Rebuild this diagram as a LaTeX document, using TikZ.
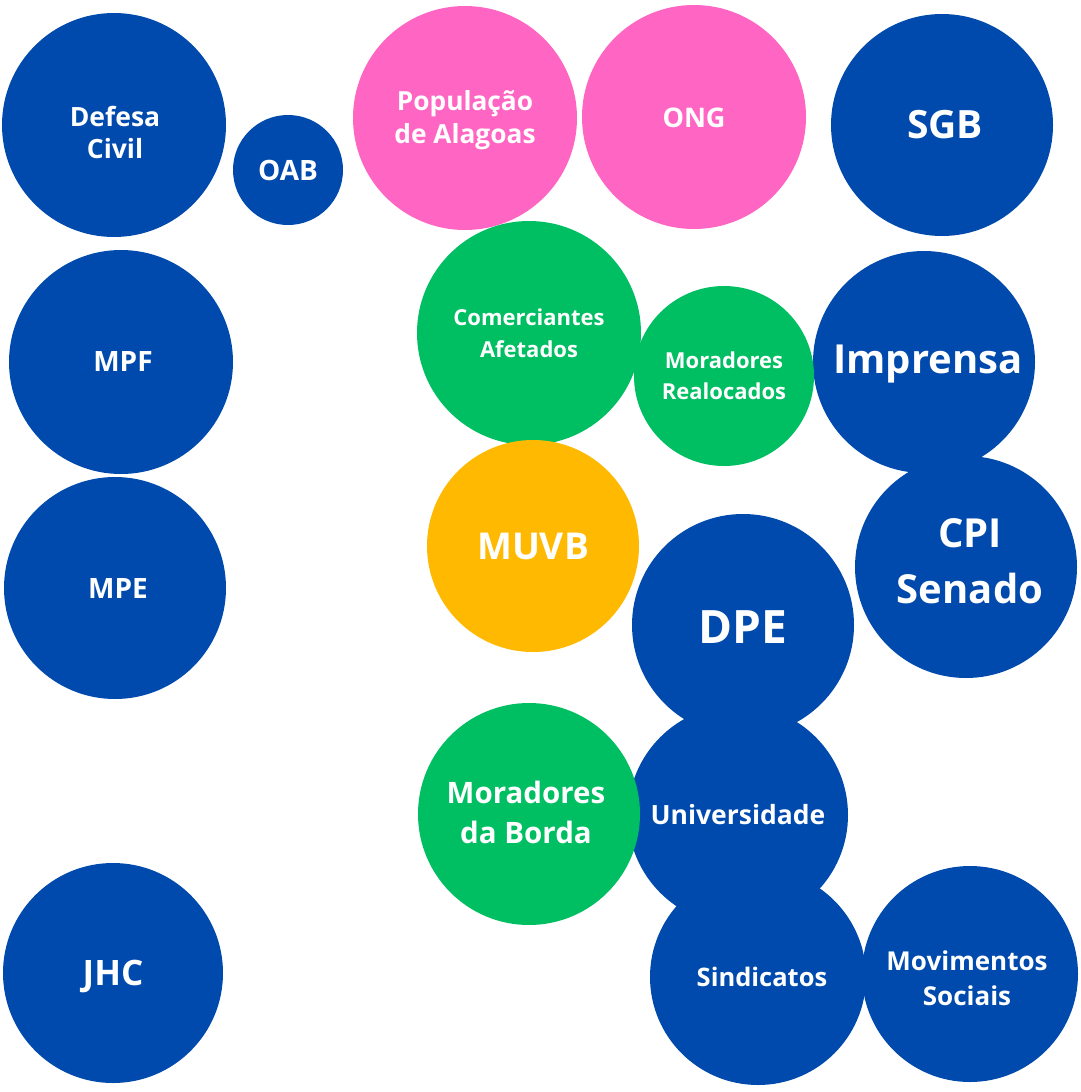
\documentclass[tikz,border=0pt]{standalone}
\usepackage{fontspec}
\setmainfont{Open Sans}
\definecolor{cblue}{HTML}{004AAD}
\definecolor{cgreen}{HTML}{00BF63}
\definecolor{cpink}{HTML}{FF66C4}
\definecolor{cyellow}{HTML}{FFB900}
\newcommand{\fs}[2]{\fontsize{#1}{#2}\selectfont}
\tikzset{
  bubble/.style={circle, inner sep=0pt},
  bluebub/.style={bubble, fill=cblue},
  greenbub/.style={bubble, fill=cgreen},
  pinkbub/.style={bubble, fill=cpink},
  yellowbub/.style={bubble, fill=cyellow},
  txt/.style={text=white, align=center, inner sep=0pt},
  fsz/.style 2 args={txt, font=\bfseries\fs{#1}{#2}},
}
\begin{document}
\begin{tikzpicture}[x=1pt,y=-1pt]
\useasboundingbox[fill=white] (0,0) rectangle (1080,1092);
% blue
\node[bluebub, minimum size=224pt] (defesa) at (114,125) {};
\node[fsz={26.5}{32}] (defesa-t) at ([xshift=1pt,yshift=-7pt]defesa.center) {Defesa\\Civil};
\node[bluebub, minimum size=110pt] (oab) at (288,170) {};
\node[fsz={28}{32}] (oab-t) at (oab.center) {OAB};
\node[bluebub, minimum size=222pt] (sgb) at (942,125) {};
\node[fsz={39}{44}] (sgb-t) at ([xshift=3pt]sgb.center) {SGB};
\node[bluebub, minimum size=224pt] (mpf) at (121,362) {};
\node[fsz={28}{32}] (mpf-t) at ([xshift=2pt]mpf.center) {MPF};
\node[bluebub, minimum size=222pt] (imprensa) at (924,362) {};
\node[fsz={40}{46}] (imprensa-t) at ([xshift=4pt,yshift=-2pt]imprensa.center) {Imprensa};
\node[bluebub, minimum size=222pt] (mpe) at (115,588) {};
\node[fsz={28}{32}] (mpe-t) at ([xshift=3pt]mpe.center) {MPE};
\node[bluebub, minimum size=222pt] (cpi) at (966,567) {};
\node[fsz={40}{56}] (cpi-t) at ([xshift=4pt,yshift=6pt]cpi.center) {CPI\\Senado};
\node[bluebub, minimum size=220pt] (univ) at (738,815) {};
\node[fsz={26.5}{32}] (univ-t) at (univ.center) {Universidade};
\node[bluebub, minimum size=222pt] (dpe) at (743,625) {};
\node[fsz={46}{50}] (dpe-t) at ([yshift=-2pt]dpe.center) {DPE};
\node[bluebub, minimum size=216pt] (sind) at (758,977) {};
\node[fsz={25.5}{30}] (sind-t) at ([xshift=4pt]sind.center) {Sindicatos};
\node[bluebub, minimum size=216pt] (mov) at (970,974) {};
\node[fsz={26}{35}] (mov-t) at ([xshift=-3pt,yshift=-4pt]mov.center) {Movimentos\\Sociais};
\node[bluebub, minimum size=220pt] (jhc) at (113,973) {};
\node[fsz={35}{42}] (jhc-t) at ([yshift=-3pt]jhc.center) {JHC};
% pink
\node[pinkbub, minimum size=224pt] (pop) at (465,118) {};
\node[fsz={26.3}{33}] (pop-t) at ([yshift=-2pt]pop.center) {População\\de Alagoas};
\node[pinkbub, minimum size=224pt] (ong) at (694,117) {};
\node[fsz={27}{31}] (ong-t) at ([yshift=-1pt]ong.center) {ONG};
% green
\node[greenbub, minimum size=224pt] (com) at (529,333) {};
\node[fsz={22}{32}] (com-t) at (com.center) {Comerciantes\\Afetados};
\node[greenbub, minimum size=180pt] (real) at (724,376) {};
\node[fsz={22}{31}] (real-t) at (real.center) {Moradores\\Realocados};
\node[greenbub, minimum size=222pt] (borda) at (529,814) {};
\node[fsz={29.5}{40}] (borda-t) at ([xshift=-3pt,yshift=2pt]borda.center) {Moradores\\da Borda};
% yellow
\node[yellowbub, minimum size=212pt] (muvb) at (533,546) {};
\node[fsz={37}{44}] (muvb-t) at (muvb.center) {MUVB};
\end{tikzpicture}
\end{document}
